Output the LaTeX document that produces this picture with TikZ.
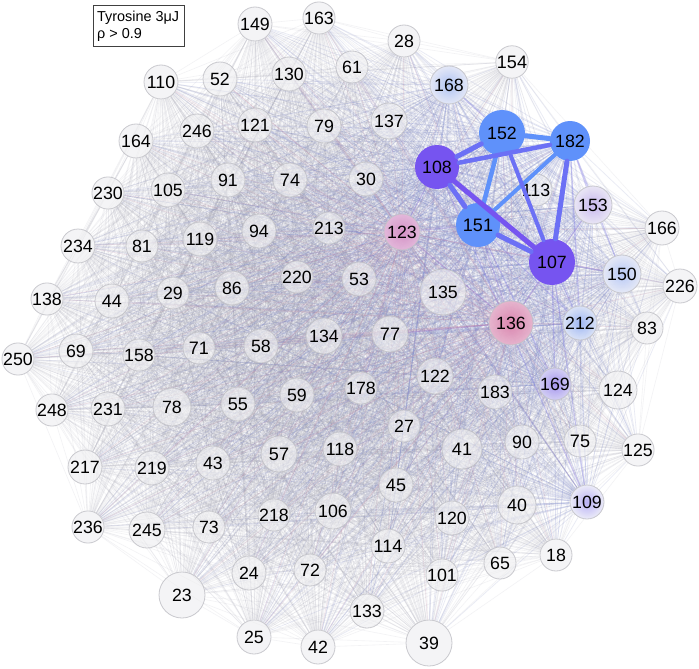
\documentclass[tikz,border=0pt]{standalone}
\usepackage{fontspec}
\usepackage{graphicx}
\setmainfont{Liberation Sans}
\pgfdeclarelayer{back}
\pgfdeclarelayer{bg}
\pgfsetlayers{back,bg,main}
\definecolor{ndfill}{RGB}{238,238,240}
\definecolor{ndline}{RGB}{190,190,196}
\definecolor{cBlue}{RGB}{95,145,250}
\definecolor{cPur}{RGB}{118,84,240}
\definecolor{cMix}{RGB}{108,112,245}
\definecolor{egray}{RGB}{160,160,176}
\definecolor{eblue}{RGB}{115,135,240}
\definecolor{ered}{RGB}{225,115,155}
\definecolor{emed}{RGB}{130,110,240}
\definecolor{i168}{RGB}{160,185,245}\definecolor{o168}{RGB}{225,230,248}
\definecolor{i153}{RGB}{190,170,238}\definecolor{o153}{RGB}{232,228,246}
\definecolor{i123}{RGB}{208,125,188}\definecolor{o123}{RGB}{226,172,214}
\definecolor{i150}{RGB}{170,192,248}\definecolor{o150}{RGB}{228,232,248}
\definecolor{i136}{RGB}{215,110,160}\definecolor{o136}{RGB}{230,168,198}
\definecolor{i212}{RGB}{140,170,245}\definecolor{o212}{RGB}{215,225,248}
\definecolor{i169}{RGB}{150,130,240}\definecolor{o169}{RGB}{205,200,245}
\definecolor{i109}{RGB}{170,160,245}\definecolor{o109}{RGB}{235,235,250}
\tikzset{
  nd/.style={circle, draw=ndline, line width=0.8pt, fill=ndfill, fill opacity=0.6,
    draw opacity=0.8, text opacity=1, inner sep=0pt, text=black, font=\fontsize{16}{18}\selectfont},
  core/.style={draw=none, fill opacity=1},
  shd/.style={shading=radial, inner color=i#1, outer color=o#1, fill opacity=0.8},
  e1/.style={draw=egray, draw opacity=0.13, line width=0.6pt},
  eb/.style={draw=eblue, draw opacity=0.08, line width=0.7pt},
  er/.style={draw=ered, draw opacity=0.10, line width=0.7pt},
  em/.style={draw=emed, draw opacity=0.2, line width=1.3pt},
  thick1/.style={line width=#1pt, line cap=round},
}
\newcommand\mknode[5][]{\node[nd, minimum size=#5*2pt, #1] (n#2) at (#3,#4) {\resizebox{!}{12.4pt}{#2}};}
\def\allnodes{149,163,28,154,110,52,130,61,168,164,246,121,79,137,152,182,108,230,105,91,74,30,113,153,166,234,81,119,94,213,123,151,107,138,44,29,86,220,53,135,150,226,250,69,158,71,58,134,77,136,212,83,248,231,78,55,59,178,122,183,169,124,27,41,90,75,125,217,219,43,57,118,45,236,245,73,218,106,120,40,109,114,18,24,72,101,65,23,133,25,42,39}
\begin{document}
\begin{tikzpicture}[x=1pt,y=-1pt]
\useasboundingbox (0,0) rectangle (699,669);
\begin{pgfonlayer}{back}
\fill[white] (0,0) rectangle (699,669);
\end{pgfonlayer}
% nodes
\mknode{149}{255}{24}{17}
\mknode{163}{319}{18}{16}
\mknode{28}{404}{41}{16}
\mknode{154}{512}{62}{16}
\mknode{110}{161}{82}{17}
\mknode{52}{220}{79}{17}
\mknode{130}{289}{74}{17}
\mknode{61}{352}{67}{16}
\mknode[shd=168]{168}{449}{85}{19}
\mknode{164}{136}{141}{17}
\mknode{246}{197}{131}{17}
\mknode{121}{255}{125}{17}
\mknode{79}{324}{126}{17}
\mknode{137}{389}{121}{18}
\mknode[core,fill=cBlue]{152}{502}{133}{23}
\mknode[core,fill=cBlue]{182}{570}{141}{20}
\mknode[core,fill=cPur]{108}{437}{167}{22}
\mknode{230}{108}{193}{16}
\mknode{105}{168}{190}{17}
\mknode{91}{228}{180}{17}
\mknode{74}{290}{180}{17}
\mknode{30}{366}{179}{17}
\mknode{113}{536}{190}{16}
\mknode[shd=153]{153}{593}{205}{19}
\mknode{166}{662}{228}{17}
\mknode{234}{78}{246}{17}
\mknode{81}{142}{246}{16}
\mknode{119}{200}{239}{17}
\mknode{94}{259}{231}{17}
\mknode{213}{329}{228}{16}
\mknode[shd=123]{123}{402}{232}{18}
\mknode[core,fill=cBlue]{151}{478}{225}{22}
\mknode[core,fill=cPur]{107}{552}{262}{23}
\mknode{138}{47}{299}{16}
\mknode{44}{112}{301}{17}
\mknode{29}{173}{293}{16}
\mknode{86}{232}{288}{17}
\mknode{220}{297}{277}{16}
\mknode{53}{359}{279}{17}
\mknode{135}{443}{292}{23}
\mknode[shd=150]{150}{622}{274}{19}
\mknode{226}{680}{286}{17}
\mknode{250}{18}{359}{16}
\mknode{69}{76}{351}{17}
\mknode{158}{139}{355}{16}
\mknode{71}{199}{348}{16}
\mknode{58}{261}{346}{17}
\mknode{134}{324}{336}{18}
\mknode{77}{390}{334}{18}
\mknode[shd=136]{136}{511}{323}{22}
\mknode[shd=212]{212}{580}{323}{17}
\mknode{83}{647}{328}{16}
\mknode{248}{52}{410}{16}
\mknode{231}{108}{409}{17}
\mknode{78}{172}{407}{19}
\mknode{55}{238}{404}{17}
\mknode{59}{297}{395}{17}
\mknode{178}{361}{388}{16}
\mknode{122}{435}{376}{18}
\mknode{183}{495}{392}{17}
\mknode[shd=169]{169}{555}{384}{16}
\mknode{124}{618}{390}{19}
\mknode{27}{404}{426}{16}
\mknode{41}{462}{449}{20}
\mknode{90}{522}{442}{17}
\mknode{75}{580}{441}{16}
\mknode{125}{638}{450}{16}
\mknode{217}{85}{467}{17}
\mknode{219}{152}{468}{17}
\mknode{43}{213}{463}{17}
\mknode{57}{279}{454}{18}
\mknode{118}{340}{449}{17}
\mknode{45}{396}{485}{17}
\mknode{236}{88}{527}{16}
\mknode{245}{147}{530}{18}
\mknode{73}{209}{527}{16}
\mknode{218}{274}{515}{16}
\mknode{106}{333}{511}{18}
\mknode{120}{452}{518}{17}
\mknode{40}{517}{505}{19}
\mknode[shd=109]{109}{587}{502}{17}
\mknode{114}{388}{546}{17}
\mknode{18}{556}{555}{16}
\mknode{24}{249}{573}{17}
\mknode{72}{310}{570}{16}
\mknode{101}{442}{575}{16}
\mknode{65}{500}{563}{16}
\mknode{23}{182}{595}{23}
\mknode{133}{367}{611}{17}
\mknode{25}{254}{637}{17}
\mknode{42}{318}{647}{17}
\mknode{39}{429}{643}{23}
% legend box
\node[draw=black!75, line width=0.8pt, fill=white, inner sep=0pt, anchor=north west,
  minimum width=91pt, minimum height=41pt] (key) at (92.5,5.5) {};
\node[anchor=north west, inner sep=0pt, font=\fontsize{14.4}{16.5}\selectfont] (keytext) at (97,10)
  {\resizebox{82pt}{!}{\begin{tabular}{@{}l@{}}Tyrosine 3μJ\\ρ > 0.9\end{tabular}}};
% faint mesh
\begin{pgfonlayer}{bg}
\foreach \a [count=\i] in \allnodes {
  \foreach \b [count=\j] in \allnodes {
    \ifnum\j>\i \draw[e1] (n\a) -- (n\b);\fi
  }
}
\foreach \a in {152,182,151,108,107,168,150,212,153,169,109} {
  \foreach \b in \allnodes {
    \ifnum\a=\b\relax\else \draw[eb] (n\a) -- (n\b);\fi
  }
}
\foreach \a in {123,136} {
  \foreach \b in \allnodes {
    \ifnum\a=\b\relax\else \draw[er] (n\a) -- (n\b);\fi
  }
}
\foreach \a/\b in {108/109,107/169,107/150,107/212,107/153,182/153,182/150,151/169,
  151/123,136/123,77/136,123/108,136/107,152/168,151/136,107/109,182/212,151/212} {
  \draw[em] (n\a) -- (n\b);
}
\end{pgfonlayer}
% strong core edges
\draw[thick1=5, cBlue] (n152) -- (n182);
\draw[thick1=4.5, cBlue] (n152) -- (n151);
\draw[thick1=4, cBlue] (n182) -- (n151);
\draw[thick1=5, cMix] (n108) -- (n152);
\draw[thick1=4.5, cMix] (n108) -- (n182);
\draw[thick1=5, cMix] (n108) -- (n151);
\draw[thick1=5, cPur] (n108) -- (n107);
\draw[thick1=5, cMix] (n151) -- (n107);
\draw[thick1=4, cMix] (n152) -- (n107);
\draw[thick1=5, cMix] (n182) -- (n107);
\end{tikzpicture}
\end{document}
